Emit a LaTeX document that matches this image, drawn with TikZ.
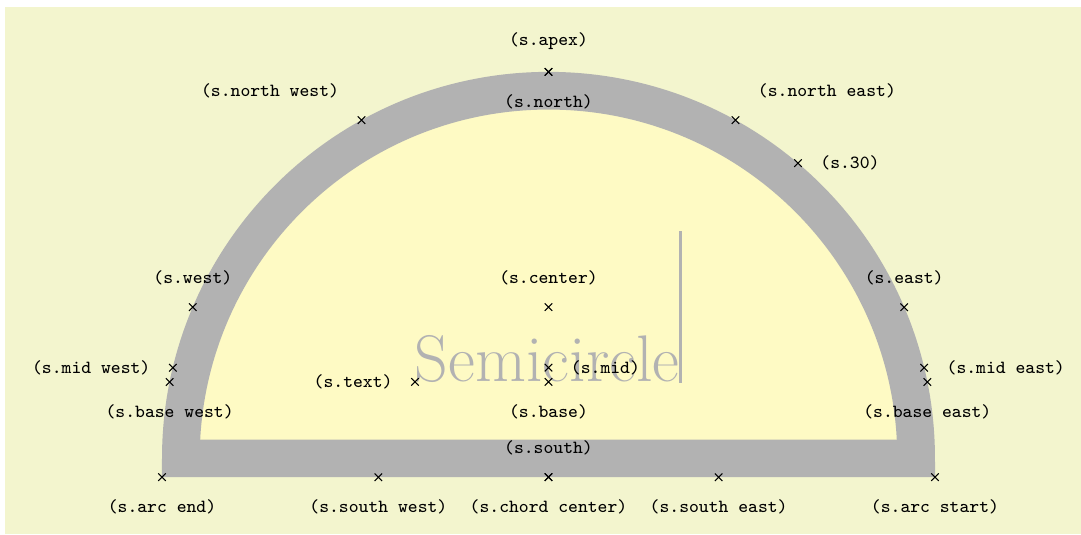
\documentclass[tikz,border=0pt]{standalone}
\usepackage{xcolor}
\usetikzlibrary{shapes.geometric, calc, backgrounds}

\definecolor{pagebg}{RGB}{243,245,206}
\definecolor{shapefill}{RGB}{254,250,196}

\begin{document}
\Huge
\begin{tikzpicture}[
    shape example/.style={color=black!30, draw, fill=shapefill, line width=.5cm, inner xsep=2.5cm, inner ysep=0.5cm},
    anchor label/.style={font=\scriptsize\ttfamily, text=black},
]

% The shape itself
\node[name=s, shape=semicircle, shape example, inner sep=1cm] {Semicircle\vrule width 1pt height 2cm};

% Frame fixed from the shape's size
\coordinate (bbl) at ($(s.arc end)!-0.2096!(s.arc start)$);
\coordinate (bbr) at ($(s.arc end)!1.1889!(s.arc start)$);
\coordinate (bbt) at ($(s.chord center)!1.1773!(s.apex)$);
\coordinate (bbb) at ($(s.chord center)!-0.1404!(s.apex)$);
\coordinate (bgl) at ($(s.arc end)!-0.2031!(s.arc start)$);
\coordinate (bgt) at ($(s.chord center)!1.1601!(s.apex)$);
\useasboundingbox (bbl |- bbb) rectangle (bbr |- bbt);

% Anchors
\foreach \anchor/\placement in
    {apex/above, arc start/below, arc end/below, chord center/below,
     north west/above left, north/below, north east/above right,
     west/above, center/above, east/above,
     mid west/left, mid/right, mid east/right,
     base west/below, base/below, base east/below,
     south west/below, south/above, south east/below, text/left, 30/right}
    \draw[shift=(s.\anchor)] plot[mark=x] coordinates{(0,0)}
        node[\placement, anchor label] (l-\anchor) {(s.\anchor)};

% Background
\begin{scope}[on background layer]
    \fill[white] (bbl |- bbb) rectangle (bbr |- bbt);
    \fill[pagebg] (bgl |- bbb) rectangle (bbr |- bgt);
\end{scope}
\end{tikzpicture}
\end{document}
